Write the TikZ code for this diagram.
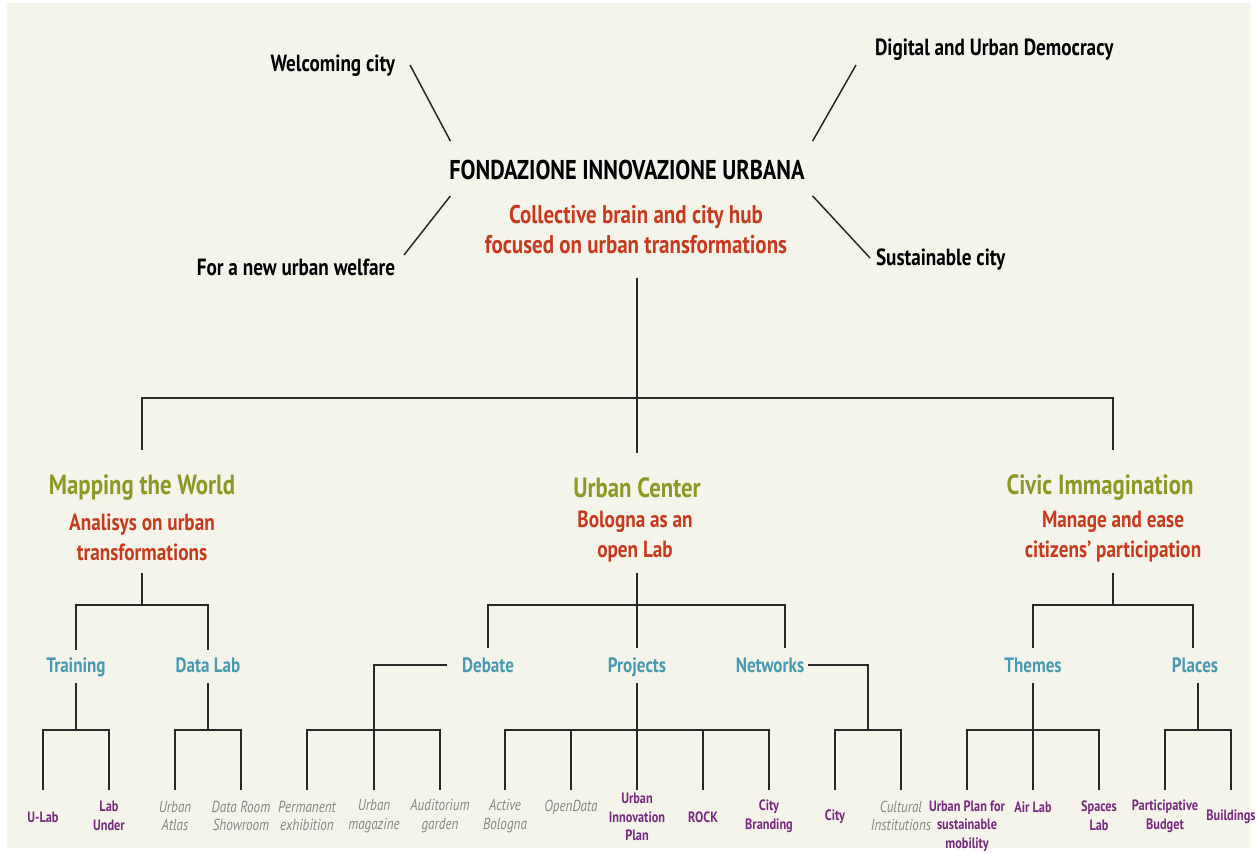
\documentclass[tikz,border=0pt]{standalone}
\usepackage{fontspec}
\setmainfont{PT Sans}[FakeStretch=0.82]
\usetikzlibrary{calc}
\definecolor{bgcream}{RGB}{245,244,235}
\definecolor{linec}{RGB}{40,40,40}
\definecolor{mygreen}{RGB}{139,153,38}
\definecolor{myred}{RGB}{198,58,30}
\definecolor{myteal}{RGB}{72,153,178}
\definecolor{mypurple}{RGB}{118,42,128}
\definecolor{mygrey}{RGB}{135,135,135}
\begin{document}
\begin{tikzpicture}[x=0.5pt,y=-0.5pt,
  conn/.style={draw=linec, line width=0.75pt},
  every node/.style={inner sep=0pt, outer sep=0pt},
  titlet/.style={font=\bfseries\fontsize{13.6}{15}\selectfont},
  side/.style={font=\bfseries\fontsize{11.7}{13}\selectfont},
  redtop/.style={text=myred, font=\bfseries\fontsize{12.8}{15}\selectfont, align=center},
  greent/.style={text=mygreen, font=\bfseries\fontsize{13.9}{17}\selectfont},
  redsub/.style={text=myred, font=\bfseries\fontsize{11.7}{15}\selectfont, align=center},
  tealt/.style={text=myteal, font=\bfseries\fontsize{10.4}{12}\selectfont, anchor=base},
  purp/.style={text=mypurple, font=\bfseries\fontsize{7.5}{9.3}\selectfont, align=center},
  greyit/.style={text=mygrey, font=\itshape\fontsize{8}{9.3}\selectfont, align=center}]
\useasboundingbox (0,0) rectangle (1256,854);
\fill[white] (0,0) rectangle (1256,854);
\fill[bgcream] (7,3) rectangle (1251,848);

% top
\node[titlet] (fiu) at (627,170) {FONDAZIONE INNOVAZIONE URBANA};
\node[redtop] (hub) at (636,230) {Collective brain and city hub\\focused on urban transformations};
\node[side,anchor=east] (wel) at (395,66) {Welcoming city};
\node[side,anchor=west] (dig) at (875,50) {Digital and Urban Democracy};
\node[side,anchor=east] (nuw) at (395,267) {For a new urban welfare};
\node[side,anchor=west] (sus) at (876,260) {Sustainable city};

\draw[conn] ($(wel.east)+(15,-1)$) -- ($(fiu.north west)+(1,-19)$);
\draw[conn] ($(dig.west)+(-19,15)$) -- ($(fiu.north east)+(8,-19)$);
\draw[conn] ($(nuw.east)+(9,-12)$) -- ($(fiu.south west)+(1,16)$);
\draw[conn] ($(sus.west)+(-6,-2)$) -- ($(fiu.south east)+(8,16)$);

% level 2
\node[greent] (mw) at (142,488) {Mapping the World};
\node[redsub] (mws) at (142,537) {Analisys on urban\\transformations};
\node[greent] (uc) at (637,488) {Urban Center};
\node[redsub] (ucs) at (635,537) {Bologna as an\\open Lab};
\node[greent] (ci) at (1100,488) {Civic Immagination};
\node[redsub] (cis) at (1113,537) {Manage and ease\\citizens’ participation};

\draw[conn] (637,278) -- (uc |- 0,453);
\draw[conn] (mw |- 0,450) -- (mw |- 0,398) -- (1113,398) -- (1113,450);

% level 3
\node[tealt] (tr) at (76,672) {Training};
\node[tealt] (dl) at (208,672) {Data Lab};
\node[tealt] (deb) at (488,672) {Debate};
\node[tealt] (proj) at (637,672) {Projects};
\node[tealt] (net) at (770,672) {Networks};
\node[tealt] (th) at (1033,672) {Themes};
\node[tealt] (pl) at (1195,672) {Places};

\draw[conn] (mws |- 0,573) -- (mws |- 0,605);
\draw[conn] (tr |- 0,650) -- (tr |- 0,605) -- (dl |- 0,605) -- (dl |- 0,650);
\draw[conn] (637,573) -- (proj |- 0,648);
\draw[conn] (deb |- 0,648) -- (deb |- 0,605) -- (785,605) -- (785,648);
\draw[conn] (1113,573) -- (1113,605);
\draw[conn] (th |- 0,648) -- (th |- 0,605) -- (1193,605) -- (1193,648);

% level 4
\node[purp] (ulab) at (43,817) {U-Lab};
\node[purp] (labu) at (109,816) {Lab\\Under};
\node[greyit] (ua) at (175,816) {Urban\\Atlas};
\node[greyit] (drs) at (241,816) {Data Room\\Showroom};
\node[greyit] (pe) at (307,816) {Permanent\\exhibition};
\node[greyit] (um) at (374,816) {Urban\\magazine};
\node[greyit] (ag) at (440,816) {Auditorium\\garden};
\node[greyit] (ab) at (505,816) {Active\\Bologna};
\node[greyit] (od) at (571,807) {OpenData};
\node[purp] (uip) at (637,817) {Urban\\Innovation\\Plan};
\node[purp] (rock) at (703,817) {ROCK};
\node[purp] (cb) at (769,816) {City\\Branding};
\node[purp] (city) at (835,817) {City};
\node[greyit] (cul) at (901,816) {Cultural\\Institutions};
\node[purp] (ups) at (967,826) {Urban Plan for\\sustainable\\mobility};
\node[purp] (air) at (1033,807) {Air Lab};
\node[purp] (spl) at (1099,816) {Spaces\\Lab};
\node[purp] (pb) at (1165,816) {Participative\\Budget};
\node[purp] (bld) at (1231,817) {Buildings};

% Training
\draw[conn] (tr |- 0,683) -- (tr |- 0,730);
\draw[conn] (ulab |- 0,790) -- (ulab |- 0,730) -- (labu |- 0,730) -- (labu |- 0,790);
% Data Lab
\draw[conn] (dl |- 0,683) -- (dl |- 0,730);
\draw[conn] (ua |- 0,790) -- (ua |- 0,730) -- (drs |- 0,730) -- (drs |- 0,790);
% Debate
\draw[conn] (447,665) -- (um |- 0,665) -- (um |- 0,790);
\draw[conn] (pe |- 0,790) -- (pe |- 0,730) -- (ag |- 0,730) -- (ag |- 0,790);
% Projects
\draw[conn] (proj |- 0,683) -- (uip |- 0,790);
\draw[conn] (ab |- 0,790) -- (ab |- 0,730) -- (cb |- 0,730) -- (cb |- 0,790);
\draw[conn] (od |- 0,730) -- (od |- 0,790);
\draw[conn] (rock |- 0,730) -- (rock |- 0,790);
% Networks
\draw[conn] (808,665) -- (868,665) -- (868,730);
\draw[conn] (city |- 0,790) -- (city |- 0,730) -- (cul |- 0,730) -- (cul |- 0,790);
% Themes
\draw[conn] (th |- 0,683) -- (air |- 0,790);
\draw[conn] (ups |- 0,790) -- (ups |- 0,730) -- (spl |- 0,730) -- (spl |- 0,790);
% Places
\draw[conn] (1198,683) -- (1198,730);
\draw[conn] (pb |- 0,790) -- (pb |- 0,730) -- (bld |- 0,730) -- (bld |- 0,790);
\end{tikzpicture}
\end{document}
